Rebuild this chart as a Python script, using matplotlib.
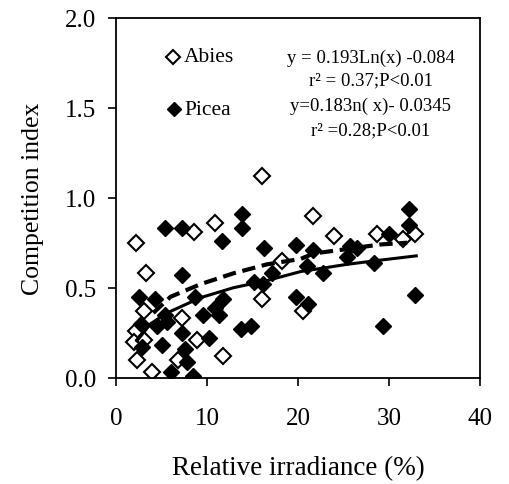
import matplotlib
matplotlib.use('Agg')
from matplotlib import pyplot as plt

# Abies (open diamonds)
abies_x = [2.2, 3.3, 8.6, 10.9, 16.1, 21.7, 3.1, 2.2, 2.0, 3.1, 2.3, 4.0, 7.3, 6.8,
           8.9, 11.8, 16.1, 18.2, 20.5, 24.0, 28.7, 31.5, 32.9]
abies_y = [0.75, 0.58, 0.81, 0.86, 1.12, 0.90, 0.37, 0.26, 0.20, 0.21, 0.10, 0.03, 0.33, 0.10,
           0.21, 0.12, 0.44, 0.65, 0.37, 0.79, 0.80, 0.77, 0.80]

# Picea (filled diamonds)
picea_x = [5.4, 7.3, 11.7, 13.9, 13.9, 16.3, 19.8, 21.6, 7.2, 2.5, 4.3, 8.7, 11.8, 15.2,
           16.2, 17.2, 19.8, 21.1, 21.0, 5.4, 2.7, 4.5, 5.6, 9.6, 10.9, 11.3, 7.2, 10.2,
           13.7, 14.8, 2.9, 5.0, 7.6, 7.8, 6.0, 8.5, 32.2, 32.2, 30.0, 32.9, 29.4, 28.4,
           25.7, 26.5, 25.4, 22.8]
picea_y = [0.83, 0.83, 0.76, 0.91, 0.83, 0.72, 0.74, 0.71, 0.57, 0.45, 0.44, 0.45, 0.44, 0.53,
           0.52, 0.58, 0.45, 0.41, 0.62, 0.35, 0.30, 0.29, 0.31, 0.35, 0.39, 0.35, 0.25, 0.22,
           0.27, 0.29, 0.17, 0.18, 0.16, 0.09, 0.03, 0.01, 0.94, 0.85, 0.80, 0.46, 0.29, 0.64,
           0.73, 0.72, 0.67, 0.58]

# trend lines
abies_fit_x = [4.1, 6.0, 9.3, 12.9, 16.6, 20.3, 21.7, 25.4, 29.0, 32.0]
abies_fit_y = [0.36, 0.45, 0.52, 0.58, 0.63, 0.66, 0.69, 0.715, 0.74, 0.75]
picea_fit_x = [2.3, 3.8, 5.6, 9.3, 12.9, 16.6, 20.3, 25.4, 29.0, 33.0]
picea_fit_y = [0.205, 0.30, 0.36, 0.445, 0.50, 0.54, 0.59, 0.63, 0.653, 0.677]

plt.rcParams['font.family'] = ['Liberation Serif', 'DejaVu Serif']

fig = plt.figure(figsize=(5.1, 4.85), dpi=100)
ax = fig.add_axes([0.2275, 0.219, 0.7135, 0.7426])

ax.plot(abies_fit_x, abies_fit_y, color='black', linestyle=(0, (3.2, 1.6)), linewidth=3, zorder=3)
ax.plot(picea_fit_x, picea_fit_y, color='black', linestyle='-', linewidth=2.2, zorder=3)
ax.plot(abies_x, abies_y, 'D', markersize=8, markerfacecolor='white',
        markeredgecolor='black', markeredgewidth=1.5, linestyle='none', zorder=2)
ax.plot(picea_x, picea_y, 'D', markersize=8, color='black', linestyle='none', zorder=2)

ax.set_xlim(0, 40)
ax.set_ylim(0, 2.0)
ax.set_xticks([0, 10, 20, 30, 40])
ax.set_yticks([0.0, 0.5, 1.0, 1.5, 2.0])
ax.set_yticklabels(['0.0', '0.5', '1.0', '1.5', '2.0'])
ax.tick_params(direction='out', length=6, width=1.2, labelsize=18)
ax.tick_params(axis='x', pad=15)
ax.tick_params(axis='y', pad=8)
for s in ax.spines.values():
    s.set_linewidth(1.3)
ax.set_xlabel('Relative irradiance (%)', fontsize=19.5, labelpad=19)
ax.set_ylabel('Competition index', fontsize=18.5, labelpad=15)

# legend made by hand
ax.plot([6.25], [1.782], 'D', markersize=7.5, markerfacecolor='white',
        markeredgecolor='black', markeredgewidth=1.5, clip_on=False)
ax.plot([6.35], [1.492], 'D', markersize=7.5, color='black', clip_on=False)
ax.text(7.5, 1.782, 'Abies', fontsize=15.5, va='center')
ax.text(7.5, 1.492, 'Picea', fontsize=15.5, va='center')

ax.text(28.0, 1.782, 'y = 0.193Ln(x) -0.084', fontsize=13.5, ha='center', va='center')
ax.text(28.0, 1.652, 'r² = 0.37;P<0.01', fontsize=13.5, ha='center', va='center')
ax.text(28.0, 1.515, 'y=0.183n( x)- 0.0345', fontsize=13.5, ha='center', va='center')
ax.text(28.0, 1.375, 'r² =0.28;P<0.01', fontsize=13.5, ha='center', va='center')

fig.savefig('out.png', dpi=100)
